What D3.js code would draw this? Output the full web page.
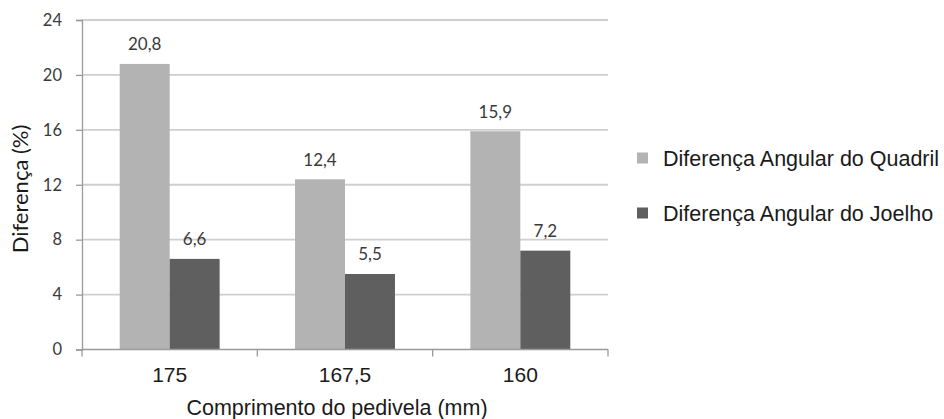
<!DOCTYPE html>
<html>
<head>
<meta charset="utf-8">
<script src="https://cdn.jsdelivr.net/npm/d3@7"></script>
<style>
  html, body { margin: 0; padding: 0; background: #fff; }
  svg { display: block; }
</style>
</head>
<body>
<svg id="chart" width="944" height="419"></svg>
<script>
// Crank lengths (mm) and angular differences (%)
const categories = ["175", "167,5", "160"];
const seriesNames = ["Diferença Angular do Quadril", "Diferença Angular do Joelho"];
const quadril = [20.8, 12.4, 15.9];
const joelho = [6.6, 5.5, 7.2];
const yTicks = [0, 4, 8, 12, 16, 20, 24];
const colors = ["#b3b3b3", "#5f5f5f"];

const svg = d3.select("#chart");
const plotLeft = 82, plotRight = 608, plotTop = 20, plotBottom = 349.5;

const x = d3.scaleBand().domain(categories).range([plotLeft, plotRight]).paddingInner(0.43).paddingOuter(0.215);
const xs = d3.scaleBand().domain([0, 1]).range([0, x.bandwidth()]);
const y = d3.scaleLinear().domain([0, 24]).range([plotBottom, plotTop]);

const fmt = v => String(v).replace(".", ",");
const sans = "Liberation Sans, Arial, sans-serif";
const numFont = "Lato, Carlito, Calibri, sans-serif";

// horizontal gridlines
svg.append("g").selectAll("line").data(yTicks.filter(t => t > 0)).join("line")
  .attr("x1", plotLeft).attr("x2", plotRight)
  .attr("y1", d => y(d)).attr("y2", d => y(d))
  .attr("stroke", "#cfcfcf").attr("stroke-width", 1.8);

// bars
const rows = categories.map((c, i) => ({ c, vals: [quadril[i], joelho[i]] }));
const groups = svg.append("g").selectAll("g").data(rows).join("g")
  .attr("transform", d => `translate(${x(d.c)},0)`);
groups.selectAll("rect").data(d => d.vals.map((v, k) => ({ v, k }))).join("rect")
  .attr("x", d => xs(d.k)).attr("width", xs.bandwidth())
  .attr("y", d => y(d.v)).attr("height", d => plotBottom - y(d.v))
  .attr("fill", d => colors[d.k]);
groups.selectAll("text").data(d => d.vals.map((v, k) => ({ v, k }))).join("text")
  .attr("x", d => xs(d.k) + xs.bandwidth() / 2)
  .attr("y", d => y(d.v) - 13.5)
  .attr("text-anchor", "middle")
  .attr("font-family", numFont)
  .attr("font-size", 17).attr("fill", "#3a3a3a")
  .text(d => fmt(d.v));

// y axis
const yAxis = svg.append("g").attr("transform", `translate(${plotLeft},0)`)
  .call(d3.axisLeft(y).tickValues(yTicks).tickSize(6).tickPadding(14));
yAxis.select(".domain").attr("stroke", "#9a9a9a").attr("stroke-width", 1.3);
yAxis.selectAll(".tick line").attr("stroke", "#9a9a9a").attr("stroke-width", 1.3);
yAxis.selectAll(".tick text").attr("font-family", numFont)
  .attr("font-size", 16.5).attr("fill", "#3a3a3a");

// x axis with boundary ticks between categories
const xAxisG = svg.append("g");
xAxisG.append("line").attr("x1", plotLeft).attr("x2", plotRight).attr("y1", plotBottom).attr("y2", plotBottom)
  .attr("stroke", "#9a9a9a").attr("stroke-width", 1.3);
const bounds = d3.range(categories.length + 1).map(i => plotLeft + i * x.step());
xAxisG.selectAll("line.b").data(bounds).join("line").attr("class", "b")
  .attr("x1", d => d).attr("x2", d => d).attr("y1", plotBottom).attr("y2", plotBottom + 7)
  .attr("stroke", "#9a9a9a").attr("stroke-width", 1.3);
xAxisG.selectAll("text").data(categories).join("text")
  .attr("x", d => x(d) + x.bandwidth() / 2).attr("y", 382)
  .attr("text-anchor", "middle")
  .attr("font-family", sans)
  .attr("font-size", 21).attr("fill", "#1a1a1a")
  .text(d => d);

// axis titles
svg.append("text").attr("x", 337).attr("y", 415).attr("text-anchor", "middle")
  .attr("font-family", sans)
  .attr("font-size", 21.5).attr("fill", "#1a1a1a")
  .text("Comprimento do pedivela (mm)");
svg.append("text").attr("transform", "translate(28,189) rotate(-90)").attr("text-anchor", "middle")
  .attr("font-family", numFont)
  .attr("font-size", 22).attr("fill", "#1a1a1a")
  .text("Diferença (%)");

// legend
const legend = svg.append("g").selectAll("g").data(seriesNames).join("g")
  .attr("transform", (d, i) => `translate(637,${158 + i * 55})`);
legend.append("rect").attr("x", 0).attr("y", -5.5).attr("width", 11).attr("height", 11)
  .attr("fill", (d, i) => colors[i]);
legend.append("text").attr("x", 26).attr("y", 7.5)
  .attr("font-family", sans)
  .attr("font-size", 21.5).attr("fill", "#1a1a1a")
  .text(d => d);
</script>
</body>
</html>
